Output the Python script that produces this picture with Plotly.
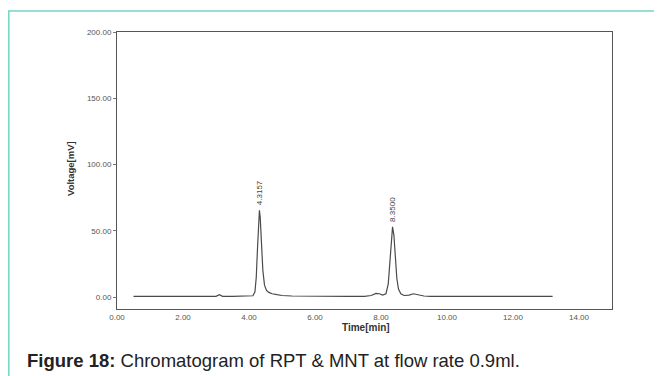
import plotly.graph_objects as go

# Chromatogram trace
time_min = [0.5, 1.5, 2.5, 3.0, 3.1, 3.2, 3.5, 4.0, 4.12, 4.18, 4.22, 4.26, 4.30, 4.3157, 4.34, 4.38,
            4.42, 4.47, 4.53, 4.60, 4.70, 4.85, 5.0, 5.3, 6.0, 7.0, 7.5, 7.7, 7.85, 7.95, 8.05, 8.15,
            8.22, 8.27, 8.31, 8.35, 8.39, 8.43, 8.48, 8.53, 8.60, 8.70, 8.85, 8.98, 9.1, 9.3, 9.5,
            10.5, 11.5, 12.5, 13.2]
voltage_mv = [0.5, 0.5, 0.5, 0.6, 1.8, 0.6, 0.5, 0.6, 1.0, 4.0, 15.0, 38.0, 60.0, 65.5, 60.0, 40.0,
              20.0, 9.0, 5.0, 3.5, 2.5, 1.8, 1.2, 0.8, 0.5, 0.5, 0.6, 1.2, 2.8, 2.5, 1.5, 2.5,
              10.0, 28.0, 45.0, 53.0, 47.0, 30.0, 14.0, 6.0, 2.5, 1.2, 1.5, 2.5, 1.8, 0.8, 0.5,
              0.5, 0.5, 0.5, 0.5]

peak_times = [4.3157, 8.35]
peak_heights = [65.5, 53.0]
peak_labels = ["4.3157", "8.3500"]

x_ticks = [0, 2, 4, 6, 8, 10, 12, 14]
y_ticks = [0, 50, 100, 150, 200]

# page body has an 8px default margin; figure drawn at (8, 8) on screen
OFF = 8
W, H = 654, 368
L, R, T, B = 109, 50, 24, 67
pw, ph = W - L - R, H - T - B

def px(sx):
    return (sx - OFF - L) / pw

def py(sy):
    return (H - B - (sy - OFF)) / ph

FONT = "Arial, Liberation Sans, sans-serif"

fig = go.Figure()
fig.add_trace(go.Scatter(x=time_min, y=voltage_mv, mode="lines",
                         line=dict(color="#4a4a4a", width=1.2), hoverinfo="skip",
                         showlegend=False))

for t, h, lab in zip(peak_times, peak_heights, peak_labels):
    fig.add_annotation(x=t, y=h, text=lab, textangle=-90, showarrow=False,
                       xanchor="center", yanchor="bottom", yshift=3,
                       font=dict(family=FONT, size=8, color="#444"))

fig.add_annotation(xref="paper", yref="paper", x=px(70), y=py(169), text="<b>Voltage[mV]</b>",
                   textangle=-90, showarrow=False, xanchor="center", yanchor="middle",
                   font=dict(family=FONT, size=9.5, color="#333"))
fig.add_annotation(xref="paper", yref="paper", x=px(366), y=py(327), text="<b>Time[min]</b>",
                   showarrow=False, xanchor="center", yanchor="middle",
                   font=dict(family=FONT, size=10, color="#333"))
fig.add_annotation(xref="paper", yref="paper", x=px(25), y=py(360),
                   text="<b>Figure 18:</b> Chromatogram of RPT &amp; MNT at flow rate 0.9ml.",
                   showarrow=False, xanchor="left", yanchor="middle",
                   font=dict(family=FONT, size=18.5, color="#222"))

# teal outer frame
fig.add_shape(type="path", xref="paper", yref="paper",
              path=f"M {px(8.8)} {py(380)} L {px(8.8)} {py(11)} L {px(670)} {py(11)}",
              line=dict(color="#72d6c6", width=1.5))

fig.update_layout(
    width=W, height=H, margin=dict(l=L, r=R, t=T, b=B),
    paper_bgcolor="white", plot_bgcolor="white",
    xaxis=dict(range=[0, 15], tickvals=x_ticks, tickformat=".2f", showgrid=False, zeroline=False,
               showline=True, linecolor="#555", linewidth=1, mirror=True, ticks="",
               tickfont=dict(family=FONT, size=8, color="#555")),
    yaxis=dict(range=[-9, 200], tickvals=y_ticks, tickformat=".2f", showgrid=False, zeroline=False,
               showline=True, linecolor="#555", linewidth=1, mirror=True, ticks="outside",
               ticklen=3, tickcolor="#777",
               tickfont=dict(family=FONT, size=8, color="#555")),
)

fig.write_html("out.html")
